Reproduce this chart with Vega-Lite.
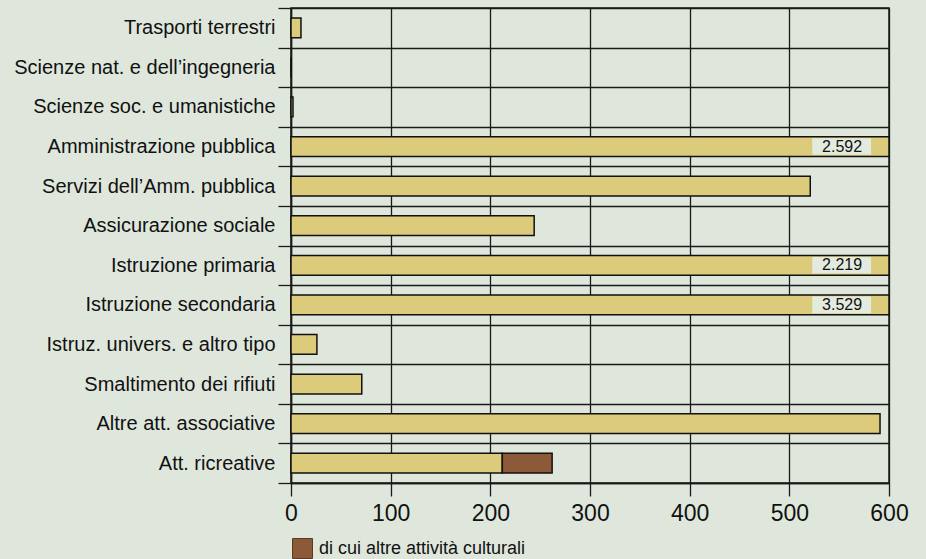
{
  "$schema": "https://vega.github.io/schema/vega-lite/v6.json",
  "width": 598,
  "height": 475,
  "autosize": {"type": "none"},
  "padding": {"left": 291, "top": 8, "right": 37, "bottom": 76},
  "background": "#dfe7dc",
  "view": {"stroke": "#1a1a1a", "strokeWidth": 1.5, "fill": "#dfe7dc"},
  "data": {
    "values": [
      {"cat": "Trasporti terrestri", "part": "totale", "value": 10},
      {"cat": "Scienze nat. e dell’ingegneria", "part": "totale", "value": 0},
      {"cat": "Scienze soc. e umanistiche", "part": "totale", "value": 2},
      {"cat": "Amministrazione pubblica", "part": "totale", "value": 2592, "label": "2.592"},
      {"cat": "Servizi dell’Amm. pubblica", "part": "totale", "value": 521},
      {"cat": "Assicurazione sociale", "part": "totale", "value": 244},
      {"cat": "Istruzione primaria", "part": "totale", "value": 2219, "label": "2.219"},
      {"cat": "Istruzione secondaria", "part": "totale", "value": 3529, "label": "3.529"},
      {"cat": "Istruz. univers. e altro tipo", "part": "totale", "value": 26},
      {"cat": "Smaltimento dei rifiuti", "part": "totale", "value": 71},
      {"cat": "Altre att. associative", "part": "totale", "value": 591},
      {"cat": "Att. ricreative", "part": "totale", "value": 212},
      {"cat": "Att. ricreative", "part": "di cui altre attività culturali", "value": 50}
    ]
  },
  "encoding": {
    "y": {
      "field": "cat",
      "type": "nominal",
      "title": null,
      "scale": {
        "domain": ["Trasporti terrestri", "Scienze nat. e dell’ingegneria", "Scienze soc. e umanistiche", "Amministrazione pubblica", "Servizi dell’Amm. pubblica", "Assicurazione sociale", "Istruzione primaria", "Istruzione secondaria", "Istruz. univers. e altro tipo", "Smaltimento dei rifiuti", "Altre att. associative", "Att. ricreative"],
        "paddingInner": 0,
        "paddingOuter": 0
      },
      "axis": {
        "tickBand": "extent",
        "grid": true,
        "gridColor": "#1a1a1a",
        "gridWidth": 1.3,
        "gridOpacity": 1,
        "tickColor": "#1a1a1a",
        "tickWidth": 1.3,
        "tickSize": 13,
        "domainColor": "#1a1a1a",
        "domainWidth": 1.5,
        "labelFont": "Liberation Sans",
        "labelFontSize": 20,
        "labelColor": "#111",
        "labelPadding": 3,
        "labelLimit": 300
      }
    }
  },
  "layer": [
    {
      "mark": {"type": "bar", "height": {"band": 0.5}, "stroke": "#111", "strokeWidth": 1.5},
      "encoding": {
        "x": {
          "field": "value",
          "type": "quantitative",
          "stack": "zero",
          "title": null,
          "scale": {"domain": [0, 600], "clamp": true, "nice": false},
          "axis": {
            "values": [0, 100, 200, 300, 400, 500, 600],
            "grid": true,
            "gridColor": "#1a1a1a",
            "gridWidth": 1.3,
            "gridOpacity": 1,
            "tickColor": "#1a1a1a",
            "tickWidth": 1.3,
            "tickSize": 13,
            "domainColor": "#1a1a1a",
            "domainWidth": 1.5,
            "labelFont": "Liberation Sans",
            "labelFontSize": 23,
            "labelColor": "#111",
            "labelPadding": 6,
            "labelFlush": false
          }
        },
        "order": {"field": "part", "sort": "descending"},
        "color": {
          "field": "part",
          "type": "nominal",
          "scale": {"domain": ["totale", "di cui altre attività culturali"], "range": ["#dccb7a", "#8c5a38"]},
          "legend": {
            "values": ["di cui altre attività culturali"],
            "title": null,
            "orient": "none",
            "legendX": 1,
            "legendY": 530,
            "symbolType": "square",
            "symbolSize": 400,
            "symbolStrokeColor": "#5a3a22",
            "symbolStrokeWidth": 1,
            "symbolOpacity": 1,
            "labelFont": "Liberation Sans",
            "labelFontSize": 18,
            "labelColor": "#111",
            "labelOffset": 6,
            "labelLimit": 400,
            "padding": 0
          }
        }
      }
    },
    {
      "transform": [{"filter": "datum.value > 600"}],
      "mark": {"type": "bar", "height": {"band": 0.42}, "fill": "#e3ebe0"},
      "encoding": {
        "x": {"datum": 523, "type": "quantitative"},
        "x2": {"datum": 582}
      }
    },
    {
      "transform": [{"filter": "datum.value > 600"}],
      "mark": {"type": "text", "align": "right", "baseline": "middle", "font": "Liberation Sans", "fontSize": 16, "color": "#111"},
      "encoding": {
        "x": {"datum": 573, "type": "quantitative"},
        "text": {"field": "label"}
      }
    }
  ]
}
